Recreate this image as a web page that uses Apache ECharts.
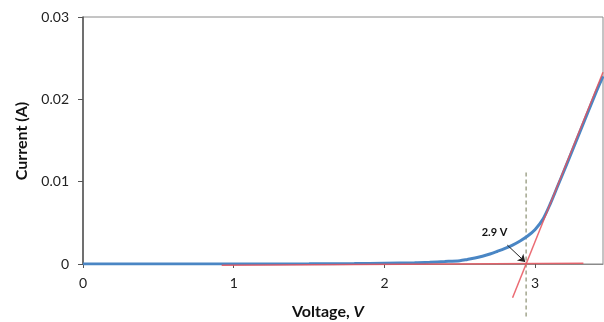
<!DOCTYPE html>
<html>
<head>
<meta charset="utf-8">
<script src="https://cdn.jsdelivr.net/npm/echarts@6/dist/echarts.min.js"></script>
<style>
  html, body { margin: 0; padding: 0; background: #fff; }
  #chart { width: 604px; height: 322px; }
</style>
</head>
<body>
<div id="chart"></div>
<script>
// 测量数据 I-V
var voltage = [0, 0.5, 1.0, 1.5, 1.8, 2.0, 2.2, 2.3, 2.4, 2.5, 2.55, 2.6, 2.65, 2.7, 2.75, 2.8, 2.85, 2.9, 2.95, 3.0, 3.05, 3.1, 3.15, 3.2, 3.3, 3.4, 3.45]
var current = [0, 0, 0, 0.00002, 0.00005, 0.0001, 0.00016, 0.00022, 0.0003, 0.0004, 0.00055, 0.00072, 0.00095, 0.00122, 0.00155, 0.0019, 0.0023, 0.0028, 0.0034, 0.0042, 0.0054, 0.0073, 0.0095, 0.0117, 0.0162, 0.0207, 0.0228]

// 切线 / 基线 / 阈值
var tangentV = [2.85, 3.45]
var tangentI = [-0.0041, 0.0233]
var baseV = [0.92, 3.32]
var baseI = [-0.00015, 0.0001]
var thresholdV = 2.94
var thresholdI = [0.0111, -0.0066]
var arrowFrom = [2.815, 0.0023]
var arrowTo = [2.934, 0.00025]
var labelAt = [2.73, 0.0038]
var labelText = '2.9 V'

var xTicks = ['0', '1', '2', '3']
var yTicks = ['0', '0.01', '0.02', '0.03']

function pairs(xs, ys) {
  return xs.map(function (x, i) { return [x, ys[i]] })
}

var myChart = echarts.init(document.getElementById('chart'), null, { renderer: 'canvas' })

var font = 'Lato, "Open Sans", sans-serif'

var option = {
  animation: false,
  grid: {
    left: 83, top: 17, right: 1, bottom: 58,
    show: true, borderColor: '#8a8a8a', borderWidth: 1
  },
  xAxis: {
    type: 'value',
    min: 0, max: 3.45, interval: 1,
    axisLine: { show: true, onZero: false, lineStyle: { color: '#8a8a8a', width: 1 } },
    axisTick: { show: true, length: 4, lineStyle: { color: '#555' } },
    splitLine: { show: false },
    axisLabel: {
      margin: 12, color: '#222', fontSize: 14, fontFamily: font,
      showMaxLabel: false,
      formatter: function (v) { return xTicks[Math.round(v)] }
    }
  },
  yAxis: {
    type: 'value',
    min: 0, max: 0.03, interval: 0.01,
    axisLine: { show: true, lineStyle: { color: '#555', width: 1.5 } },
    axisTick: { show: true, length: 5, lineStyle: { color: '#555' } },
    splitLine: { show: false },
    axisLabel: {
      margin: 14, color: '#222', fontSize: 14, fontFamily: font,
      formatter: function (v) { return yTicks[Math.round(v * 100)] }
    }
  },
  graphic: [
    {
      type: 'text', rotation: Math.PI / 2,
      x: 22, y: 141,
      style: {
        text: 'Current (A)', fill: '#111', font: 'bold 16px ' + font,
        textAlign: 'center', textVerticalAlign: 'middle'
      }
    },
    {
      type: 'text', x: 328, y: 312,
      style: {
        text: '{b|Voltage, }{i|V}', textAlign: 'center', textVerticalAlign: 'middle',
        rich: {
          b: { fontWeight: 'bold', fontSize: 16, fontFamily: font, fill: '#111' },
          i: { fontWeight: 'bold', fontStyle: 'italic', fontSize: 16, fontFamily: font, fill: '#111' }
        }
      }
    }
  ],
  series: [
    {
      name: 'I-V',
      type: 'line',
      data: pairs(voltage, current),
      smooth: 0.3,
      showSymbol: false,
      lineStyle: { color: '#4a86c4', width: 3 },
      z: 2
    },
    {
      name: 'base',
      type: 'line',
      data: pairs(baseV, baseI),
      showSymbol: false,
      clip: false,
      lineStyle: { color: '#e8525c', width: 1.5, opacity: 0.85 },
      z: 3
    },
    {
      name: 'tangent',
      type: 'line',
      data: pairs(tangentV, tangentI),
      showSymbol: false,
      clip: false,
      lineStyle: { color: '#e8525c', width: 1.5, opacity: 0.85 },
      z: 3
    },
    {
      name: 'threshold',
      type: 'line',
      data: [[thresholdV, thresholdI[0]], [thresholdV, thresholdI[1]]],
      showSymbol: false,
      clip: false,
      lineStyle: { color: '#a3a68e', width: 1.5, type: [4, 3] },
      z: 1,
      markLine: {
        silent: true,
        symbol: ['none', 'arrow'],
        symbolSize: 7,
        label: { show: false },
        lineStyle: { color: '#222', width: 1, type: 'solid' },
        data: [[{ coord: arrowFrom }, { coord: arrowTo }]]
      },
      markPoint: {
        silent: true,
        symbol: 'circle', symbolSize: 0,
        label: {
          show: true, position: 'inside', color: '#111',
          fontSize: 11, fontWeight: 'bold', fontFamily: font,
          formatter: labelText
        },
        data: [{ coord: labelAt }]
      }
    }
  ]
}

myChart.setOption(option)
</script>
</body>
</html>
